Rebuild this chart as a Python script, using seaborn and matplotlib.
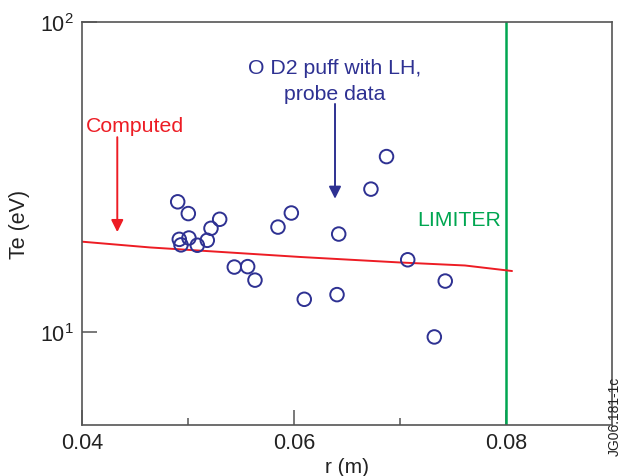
import matplotlib
matplotlib.use("Agg")
import matplotlib.pyplot as plt
import seaborn as sns
import pandas as pd
from matplotlib.ticker import LogLocator, NullLocator, FixedLocator, NullFormatter

# ---- data ----
probe_r = [0.04903, 0.05003, 0.04918, 0.04934, 0.05009, 0.05088, 0.05182, 0.05217,
           0.05299, 0.05437, 0.05563, 0.05632, 0.05849, 0.05975, 0.06097, 0.06422,
           0.06406, 0.06726, 0.06873, 0.07073, 0.07324, 0.07427]
probe_te = [26.3, 24.1, 19.9, 19.1, 20.1, 19.05, 19.76, 21.6,
            23.1, 16.2, 16.25, 14.7, 21.8, 24.2, 12.75, 20.7,
            13.2, 28.9, 36.8, 17.1, 9.64, 14.6]
computed_r = [0.0400, 0.04642, 0.06057, 0.0700, 0.07613, 0.08057]
computed_te = [19.56, 18.74, 17.46, 16.76, 16.39, 15.73]
limiter_r = 0.08
x_ticks = [0.04, 0.06, 0.08]
x_tick_labels = ["0.04", "0.06", "0.08"]
x_minor = [0.05, 0.07]

NAVY = "#2E3192"
RED = "#ED1C24"
GREEN = "#00A651"
SPINE = "#555555"
TXT = "#222222"

sns.set_theme(style="white")
plt.rcParams["font.family"] = ["Liberation Sans", "DejaVu Sans"]

fig = plt.figure(figsize=(6.23, 4.77), dpi=100)
ax = fig.add_axes([0.1316, 0.1069, 0.8507, 0.8449])

df_probe = pd.DataFrame({"r": probe_r, "Te": probe_te})
df_comp = pd.DataFrame({"r": computed_r, "Te": computed_te})

ax.axvline(limiter_r, color=GREEN, lw=1.8, zorder=1)
sns.lineplot(data=df_comp, x="r", y="Te", ax=ax, color=RED, lw=1.4, sort=False, zorder=2)
sns.scatterplot(data=df_probe, x="r", y="Te", ax=ax, marker="o", s=95,
                facecolor="none", edgecolor=NAVY, linewidth=1.4, zorder=3)

ax.set_yscale("log")
ax.set_xlim(0.04, 0.09)
ax.set_ylim(10 ** 0.7, 100)

ax.xaxis.set_major_locator(FixedLocator(x_ticks))
ax.set_xticklabels(x_tick_labels)
ax.xaxis.set_minor_locator(FixedLocator(x_minor))
ax.yaxis.set_major_locator(LogLocator(base=10, numticks=5))
ax.yaxis.set_minor_locator(NullLocator())
ax.yaxis.set_minor_formatter(NullFormatter())

ax.tick_params(axis="both", which="major", direction="in", length=11, width=1.1,
               color=SPINE, labelsize=15.5, labelcolor=TXT, pad=5,
               bottom=True, left=True)
ax.tick_params(axis="y", which="major", pad=6)
ax.tick_params(axis="x", which="minor", direction="in", length=5, width=1.1,
               color=SPINE, bottom=True)

for s in ax.spines.values():
    s.set_color(SPINE)
    s.set_linewidth(1.2)
    s.set_visible(True)

ax.set_xlabel("r (m)", fontsize=15, color=TXT, labelpad=3)
ax.set_ylabel("Te (eV)", fontsize=15.5, color=TXT, labelpad=7)

# annotations
ax.annotate("", xy=(0.04333, 21.0), xytext=(0.04333, 42.5),
            arrowprops=dict(arrowstyle="-|>,head_length=0.6,head_width=0.3",
                            color=RED, lw=1.4, shrinkA=0, shrinkB=0))
ax.text(0.04495, 46.2, "Computed", color=RED, fontsize=15.3, ha="center", va="center")

ax.annotate("", xy=(0.06387, 26.9), xytext=(0.06387, 54.4),
            arrowprops=dict(arrowstyle="-|>,head_length=0.6,head_width=0.3",
                            color=NAVY, lw=1.4, shrinkA=0, shrinkB=0))
ax.text(0.06387, 71.2, "O D2 puff with LH,", color=NAVY, fontsize=15.3,
        ha="center", va="center")
ax.text(0.06387, 58.8, "probe data", color=NAVY, fontsize=15.3,
        ha="center", va="center")

ax.text(0.07955, 23.1, "LIMITER", color=GREEN, fontsize=15.3, ha="right", va="center")

fig.text(0.998, 0.045, "JG06.181-1c", rotation=90, fontsize=10, color=TXT,
         ha="right", va="bottom")

fig.savefig("out.png", dpi=100)
